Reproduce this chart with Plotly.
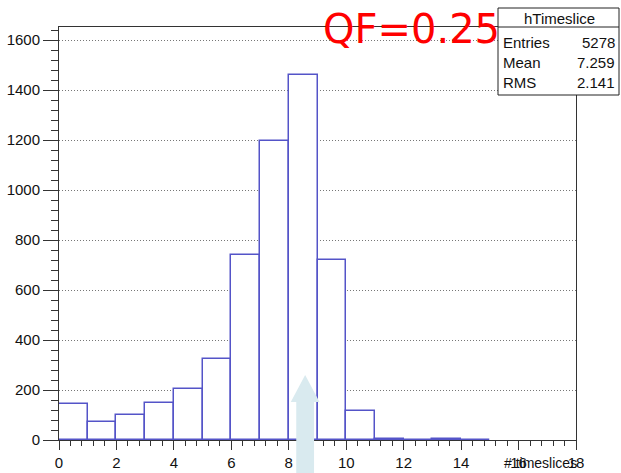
import plotly.graph_objects as go

# ---- data ----
bin_low = [0, 1, 2, 3, 4, 5, 6, 7, 8, 9, 10, 11, 12, 13, 14]
counts = [145, 71, 102, 150, 204, 323, 740, 1197, 1460, 721, 117, 3, 2, 4, 2]
x_ticks = [0, 2, 4, 6, 8, 10, 12, 14, 16, 18]
y_ticks = [0, 200, 400, 600, 800, 1000, 1200, 1400, 1600]
hist_name = "hTimeslice"
stat_labels = ["Entries", "Mean", "RMS"]
stat_values = ["5278", "7.259", "2.141"]
x_title = "# timeslices"
note_text = "QF=0.25"

W, H = 621, 473
# wanted plot area in page pixels: x 59..576, y 27..440
PL, PR, PT, PB = 59, 576, 27, 440
L, R, T, B = PL, W - PR, PT, H - PB
pw, ph = PR - PL, PB - PT

def px_x(p):
    return (p - PL) / pw

def px_y(p):
    return (PB - p) / ph

FONT = "Liberation Sans, Arial, sans-serif"
BLUE = "rgb(84,84,200)"
TXT = "#111"

fig = go.Figure()
fig.add_trace(go.Bar(
    x=[b + 0.5 for b in bin_low],
    y=counts,
    width=[1] * len(bin_low),
    marker=dict(color="white", line=dict(color=BLUE, width=1.5)),
    showlegend=False,
    hoverinfo="skip",
))

fig.update_layout(
    width=W, height=H,
    margin=dict(l=L, r=R, t=T, b=B, autoexpand=False),
    paper_bgcolor="white", plot_bgcolor="white",
    bargap=0,
    font=dict(family=FONT, size=15, color=TXT),
    xaxis=dict(
        range=[0, 18], tickvals=x_ticks, ticktext=[str(v) for v in x_ticks],
        showgrid=False, zeroline=False, automargin=False,
        showline=True, linecolor="#333", linewidth=1, mirror=True,
        ticks="outside", ticklen=9, tickcolor="#333", tickwidth=1,
        minor=dict(dtick=0.4, ticks="outside", ticklen=5, tickcolor="#333", showgrid=False),
        tickfont=dict(family=FONT, size=15, color=TXT),
    ),
    yaxis=dict(
        range=[0, ph / 0.25], tickvals=y_ticks, ticktext=[str(v) for v in y_ticks],
        showgrid=True, gridcolor="#777", griddash="1px,2px", gridwidth=1,
        zeroline=False, automargin=False,
        showline=True, linecolor="#333", linewidth=1, mirror=True,
        ticks="outside", ticklen=15, tickcolor="#333", tickwidth=1,
        minor=dict(dtick=40, ticks="outside", ticklen=7, tickcolor="#333", showgrid=False),
        tickfont=dict(family=FONT, size=15, color=TXT),
    ),
)

# light-blue arrow pointing at the peak (decoration)
ax_c = 8.57
sw, hw = 0.31, 0.5
y_tip, y_base, y_bot = px_y(375), px_y(402), px_y(473)
arrow_path = (f"M {ax_c - sw},{y_bot} L {ax_c - sw},{y_base} L {ax_c - hw},{y_base} "
              f"L {ax_c},{y_tip} L {ax_c + hw},{y_base} L {ax_c + sw},{y_base} "
              f"L {ax_c + sw},{y_bot} Z")
fig.add_shape(type="path", path=arrow_path, xref="x", yref="paper",
              fillcolor="#d9eaef", line=dict(width=0), layer="above")

# stats box
fig.add_shape(type="rect", xref="paper", yref="paper",
              x0=px_x(498), x1=px_x(619), y0=px_y(95), y1=px_y(8),
              fillcolor="white", line=dict(color="#222", width=1), layer="above")
fig.add_shape(type="line", xref="paper", yref="paper",
              x0=px_x(498), x1=px_x(619), y0=px_y(27), y1=px_y(27),
              line=dict(color="#222", width=1), layer="above")
fig.add_annotation(text=hist_name, xref="paper", yref="paper",
                   x=px_x(559), y=px_y(18), xanchor="center", yanchor="middle",
                   showarrow=False, font=dict(family=FONT, size=15, color=TXT))
row_y = [42, 62, 83]
for lab, val, ry in zip(stat_labels, stat_values, row_y):
    fig.add_annotation(text=lab, xref="paper", yref="paper",
                       x=px_x(501), y=px_y(ry), xanchor="left", yanchor="middle",
                       showarrow=False, font=dict(family=FONT, size=15, color=TXT))
    fig.add_annotation(text=val, xref="paper", yref="paper",
                       x=px_x(617), y=px_y(ry), xanchor="right", yanchor="middle",
                       showarrow=False, font=dict(family=FONT, size=15, color=TXT))

# axis title
fig.add_annotation(text=x_title, xref="paper", yref="paper",
                   x=px_x(579), y=px_y(463), xanchor="right", yanchor="middle",
                   showarrow=False, font=dict(family=FONT, size=14, color=TXT))

# QF label
fig.add_annotation(text=note_text, xref="paper", yref="paper",
                   x=px_x(411), y=px_y(29), xanchor="center", yanchor="middle",
                   showarrow=False,
                   font=dict(family="DejaVu Sans, sans-serif", size=40, color="#ff0000"))

fig.write_html("out.html", config={"displayModeBar": False},
               post_script="document.body.style.margin='0px';")
